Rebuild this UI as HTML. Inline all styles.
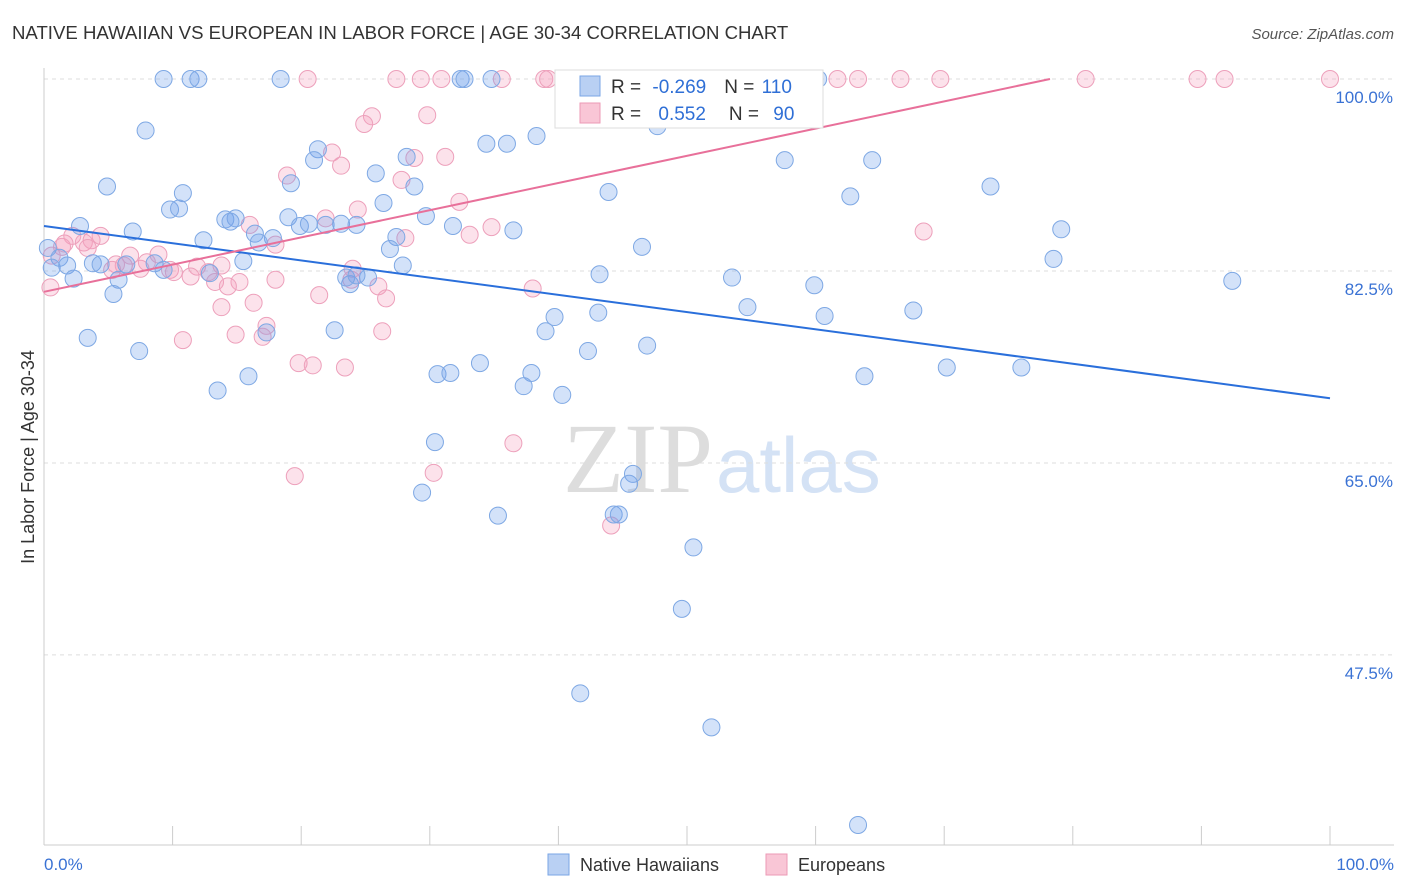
<!DOCTYPE html>
<html><head><meta charset="utf-8"><style>
body{margin:0;background:#fff;font-family:"Liberation Sans",sans-serif;}
svg{display:block}
</style></head><body>
<svg id="chart" width="1406" height="892" font-family="Liberation Sans, sans-serif">
<text x="12" y="39" font-size="18.6" fill="#333">NATIVE HAWAIIAN VS EUROPEAN IN LABOR FORCE | AGE 30-34 CORRELATION CHART</text>
<text x="1394" y="39" font-size="15" fill="#555" font-style="italic" text-anchor="end">Source: ZipAtlas.com</text>
<text x="713" y="492" font-size="100" fill="#ddd" text-anchor="end" font-family="Liberation Serif, serif">ZIP</text>
<text x="716" y="492" font-size="78" fill="#d4e2f5">atlas</text>
<text transform="translate(34,457) rotate(-90)" font-size="18" fill="#333" text-anchor="middle">In Labor Force | Age 30-34</text>
<g id="grid"></g><g id="axes"></g><g id="pts"></g><g id="lines"></g>
<g>
<rect x="555" y="70" width="268" height="58" fill="#fff" stroke="#ddd"/>
<rect x="580" y="76" width="20" height="20" fill="#b9d0f3" stroke="#7aa6e6"/>
<rect x="580" y="103" width="20" height="20" fill="#f9c6d6" stroke="#ec9ab6"/>
<text x="611" y="93" font-size="19" fill="#333">R = <tspan fill="#2f6fd6" dx="6">-0.269</tspan><tspan fill="#333" dx="18">N = </tspan><tspan fill="#2f6fd6" dx="2">110</tspan></text>
<text x="611" y="120" font-size="19" fill="#333">R = <tspan fill="#2f6fd6" dx="12">0.552</tspan><tspan fill="#333" dx="23">N = </tspan><tspan fill="#2f6fd6" dx="9">90</tspan></text>
</g>
<g>
<rect x="548" y="854" width="21" height="21" fill="#b9d0f3" stroke="#7aa6e6"/>
<text x="580" y="871" font-size="18" fill="#333">Native Hawaiians</text>
<rect x="766" y="854" width="21" height="21" fill="#f9c6d6" stroke="#ec9ab6"/>
<text x="798" y="871" font-size="18" fill="#333">Europeans</text>
</g>
</svg>
<script>
const yTicks=[100,82.5,65,47.5];
const yTickLabels=["100.0%","82.5%","65.0%","47.5%"];
const xTickVals=[0,10,20,30,40,50,60,70,80,90,100];
const blueX=[9.3,11.4,12.0,18.4,32.4,32.7,34.8,60.2,7.9,47.7,34.4,36.0,38.3,21.3,21.0,28.2,57.6,64.4,25.8,4.9,10.8,19.2,28.8,43.9,62.7,73.6,9.8,10.5,26.4,29.7,14.1,14.9,14.5,19.0,2.8,6.9,19.9,20.6,21.9,23.1,24.3,31.8,36.5,79.1,12.4,16.4,17.8,16.7,27.4,46.5,26.9,0.3,1.2,0.6,1.8,3.8,4.4,6.4,8.6,9.3,15.5,27.9,78.5,43.2,2.3,5.8,12.9,23.8,23.5,25.2,24.3,53.5,59.9,92.4,5.4,54.7,67.6,39.7,43.1,60.7,22.6,39.0,17.3,3.4,7.4,42.3,46.9,33.9,37.9,30.6,31.6,15.9,63.8,70.2,76.0,37.3,40.3,13.5,30.4,45.8,45.5,29.4,35.3,44.3,44.7,50.5,49.6,41.7,51.9,63.3];
const blueY=[100,100,100,100,100,100,100,100,95.3,95.7,94.1,94.1,94.8,93.6,92.6,92.9,92.6,92.6,91.4,90.2,89.6,90.5,90.2,89.7,89.3,90.2,88.1,88.2,88.7,87.5,87.2,87.3,87.0,87.4,86.6,86.1,86.6,86.8,86.7,86.8,86.7,86.6,86.2,86.3,85.3,85.9,85.5,85.1,85.6,84.7,84.5,84.6,83.7,82.8,83.0,83.2,83.1,83.1,83.2,82.6,83.4,83.0,83.6,82.2,81.8,81.7,82.3,81.3,81.9,81.9,82.1,81.9,81.2,81.6,80.4,79.2,78.9,78.3,78.7,78.4,77.1,77.0,76.9,76.4,75.2,75.2,75.7,74.1,73.2,73.1,73.2,72.9,72.9,73.7,73.7,72.0,71.2,71.6,66.9,64.0,63.1,62.3,60.2,60.3,60.3,57.3,51.7,44.0,40.9,32.0];
const pinkX=[20.5,27.4,29.3,30.9,35.6,38.9,39.2,43.2,47.0,47.9,52.4,54.3,56.9,61.7,63.3,66.6,69.7,81.0,89.7,91.8,100,25.5,24.9,29.8,22.4,23.1,28.8,31.2,18.9,27.8,32.3,24.4,21.9,16.0,34.8,33.1,68.4,2.2,4.4,3.1,3.7,1.4,28.1,18.0,0.6,6.7,8.9,5.6,6.2,8.0,9.8,5.3,7.5,11.9,13.8,10.1,11.4,12.8,13.3,15.2,18.0,14.3,24.0,23.9,26.0,38.0,0.5,21.4,16.3,26.6,13.8,17.3,17.0,14.9,10.8,26.3,19.8,20.9,23.4,36.5,30.3,19.5,44.1,1.6,3.4];
const pinkY=[100,100,100,100,100,100,100,100,100,100,100,100,100,100,100,100,100,100,100,100,100,96.6,95.9,96.7,93.3,92.1,92.8,92.9,91.2,90.8,88.8,88.1,87.3,86.7,86.5,85.8,86.1,85.7,85.7,85.1,85.3,84.7,85.5,84.9,83.9,83.9,84.0,83.1,83.0,83.3,82.6,82.6,82.7,82.9,83.0,82.4,82.0,82.4,81.5,81.5,81.7,81.1,82.7,81.7,81.1,80.9,81.0,80.3,79.6,80.0,79.2,77.5,76.5,76.7,76.2,77.0,74.1,73.9,73.7,66.8,64.1,63.8,59.3,85.0,84.6];
const blueTrend=[86.6,-0.157];
const pinkTrend=[80.6,0.248];
const NS="http://www.w3.org/2000/svg";
const X0=44,X1=1330,Y100=79,PXPER=10.97;
function sx(v){return X0+(X1-X0)*v/100;}
function sy(v){return Y100+(100-v)*PXPER;}
function mk(tag,attrs,parent){const e=document.createElementNS(NS,tag);for(const k in attrs)e.setAttribute(k,attrs[k]);parent.appendChild(e);return e;}
const grid=document.getElementById('grid'),axes=document.getElementById('axes'),pts=document.getElementById('pts'),lines=document.getElementById('lines');
yTicks.forEach((t,i)=>{
 const l=mk('line',{x1:44,x2:1394,y1:sy(t),y2:sy(t),stroke:'#ddd','stroke-dasharray':'4,4'},grid);
 
 
 const tx=mk('text',{x:1393,y:sy(t)+24,'font-size':17,fill:'#3a72d4','text-anchor':'end'},axes);
 tx.textContent=yTickLabels[i];
 
 
});
const ax=mk('line',{x1:44,x2:44,y1:68,y2:845,stroke:'#ccc'},axes);


const bx=mk('line',{x1:44,x2:1394,y1:845,y2:845,stroke:'#ccc'},axes);


xTickVals.forEach(t=>{
 const l=mk('line',{x1:sx(t),x2:sx(t),y1:826,y2:845,stroke:'#ccc'},axes);
 
 
});
[[0,'0.0%','start',44],[100,'100.0%','end',1394]].forEach(a=>{
 const tx=mk('text',{x:a[3],y:870,'font-size':17,fill:'#3a72d4','text-anchor':a[2]},axes);
 tx.textContent=a[1];
 
 
});
function dots(xs,ys,fill,stroke,name){
 xs.forEach((x,i)=>{
  const c=mk('circle',{cx:sx(x),cy:sy(ys[i]),r:8.5,fill:fill,stroke:stroke,'stroke-width':1},pts);
  
  
 });
}
dots(pinkX,pinkY,'rgba(244,160,190,0.3)','#eda0bb','european-point');
dots(blueX,blueY,'rgba(110,160,235,0.3)','#7ea8e4','native-hawaiian-point');
const bl=mk('line',{x1:sx(0),y1:sy(blueTrend[0]),x2:sx(100),y2:sy(blueTrend[0]+100*blueTrend[1]),stroke:'#2a6fdb','stroke-width':2},lines);


const pEnd=Math.min(100,(100-pinkTrend[0])/pinkTrend[1]);
const pl=mk('line',{x1:sx(0),y1:sy(pinkTrend[0]),x2:sx(pEnd),y2:sy(pinkTrend[0]+pEnd*pinkTrend[1]),stroke:'#e8709a','stroke-width':2},lines);


</script>
</body></html>
